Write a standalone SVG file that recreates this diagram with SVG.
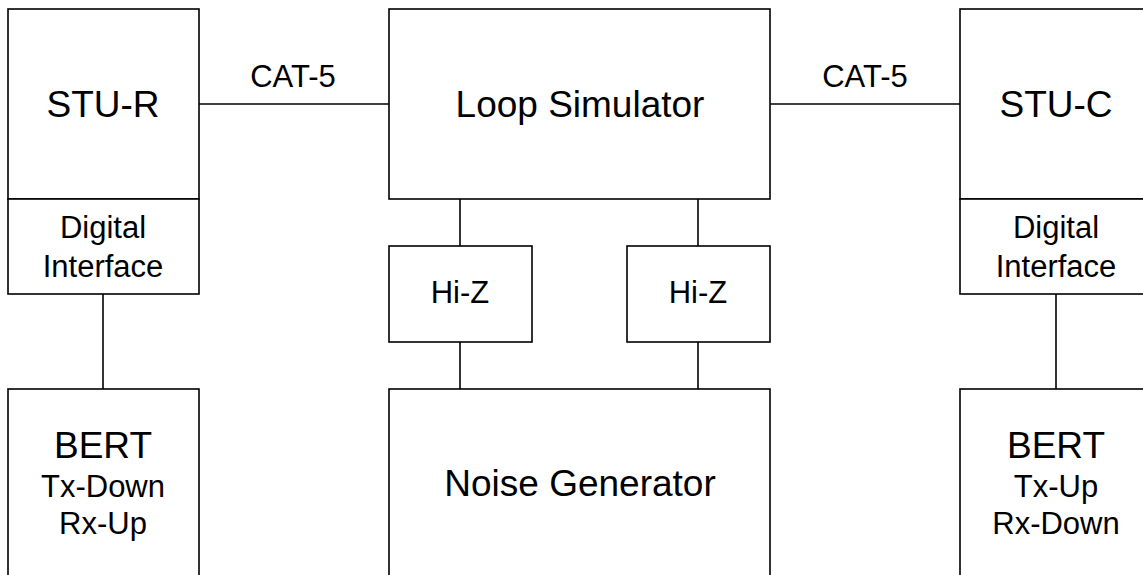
<svg xmlns="http://www.w3.org/2000/svg" width="1143" height="575" viewBox="0 0 1143 575">
<style>
rect{fill:#fff;stroke:#000;stroke-width:1.6}
line{stroke:#000;stroke-width:1.6}
text{font-family:"Liberation Sans",Arial,sans-serif;fill:#000;text-anchor:middle}
.b{font-size:37px}
.s{font-size:31px}
</style>
<rect x="0" y="0" width="1143" height="575" style="stroke:none"/>
<g id="connectors">
<line x1="199" y1="104" x2="389" y2="104"/>
<line x1="770" y1="104" x2="960" y2="104"/>
<line x1="103" y1="294" x2="103" y2="389"/>
<line x1="1056" y1="294" x2="1056" y2="389"/>
<line x1="460" y1="199" x2="460" y2="246"/>
<line x1="698" y1="199" x2="698" y2="246"/>
<line x1="460" y1="342" x2="460" y2="389"/>
<line x1="698" y1="342" x2="698" y2="389"/>
<text class="s" x="293" y="87">CAT-5</text>
<text class="s" x="865" y="87">CAT-5</text>
</g>
<g id="stu-r">
<rect x="8" y="9" width="191" height="190"/>
<text class="b" x="103" y="117">STU-R</text>
</g>
<g id="di-r">
<rect x="8" y="199" width="191" height="95"/>
<text class="s" x="103" y="238">Digital</text>
<text class="s" x="103" y="277">Interface</text>
</g>
<g id="bert-r">
<rect x="8" y="389" width="191" height="200"/>
<text class="b" x="103" y="458">BERT</text>
<text class="s" x="103" y="497">Tx-Down</text>
<text class="s" x="103" y="534">Rx-Up</text>
</g>
<g id="loop">
<rect x="389" y="9" width="381" height="190"/>
<text class="b" x="580" y="117">Loop Simulator</text>
</g>
<g id="hiz1">
<rect x="389" y="246" width="143" height="96"/>
<text class="s" x="460" y="303">Hi-Z</text>
</g>
<g id="hiz2">
<rect x="627" y="246" width="143" height="96"/>
<text class="s" x="698" y="303">Hi-Z</text>
</g>
<g id="noise">
<rect x="389" y="389" width="381" height="200"/>
<text class="b" x="580" y="496">Noise Generator</text>
</g>
<g id="stu-c">
<rect x="960" y="9" width="192" height="190"/>
<text class="b" x="1056" y="117">STU-C</text>
</g>
<g id="di-c">
<rect x="960" y="199" width="192" height="95"/>
<text class="s" x="1056" y="238">Digital</text>
<text class="s" x="1056" y="277">Interface</text>
</g>
<g id="bert-c">
<rect x="960" y="389" width="192" height="200"/>
<text class="b" x="1056" y="458">BERT</text>
<text class="s" x="1056" y="497">Tx-Up</text>
<text class="s" x="1056" y="534">Rx-Down</text>
</g>
</svg>
